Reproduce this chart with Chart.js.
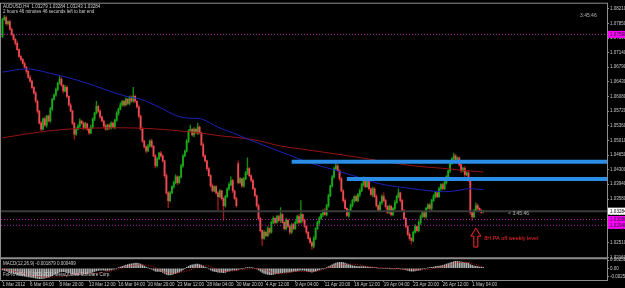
<!DOCTYPE html>
<html>
<head>
<meta charset="utf-8">
<script src="https://cdn.jsdelivr.net/npm/chart.js@4.4.1/dist/chart.umd.min.js"></script>
<style>
  html, body { margin: 0; padding: 0; background: #000; }
  canvas { display: block; }
</style>
</head>
<body>
<canvas id="chart" width="625" height="288"></canvas>
<script>
// AUDUSD H4 closes, one per bar (bar 0 = 1 Mar 16:00)
const closes = [
  1.0795,1.0800,1.0785,1.0790,1.0771,1.0759,1.0747,1.0737,1.0722,1.0705,
  1.0698,1.0688,1.0679,1.0669,1.0654,1.0645,1.0630,1.0616,1.0596,1.0572,
  1.0543,1.0528,1.0553,1.0538,1.0560,1.0548,1.0577,1.0601,1.0611,1.0625,
  1.0640,1.0650,1.0635,1.0621,1.0630,1.0608,1.0587,1.0572,1.0543,1.0516,
  1.0528,1.0536,1.0548,1.0543,1.0531,1.0541,1.0528,1.0519,1.0533,1.0553,
  1.0567,1.0584,1.0572,1.0558,1.0548,1.0536,1.0528,1.0538,1.0531,1.0543,
  1.0533,1.0550,1.0567,1.0577,1.0587,1.0596,1.0587,1.0601,1.0591,1.0606,
  1.0596,1.0608,1.0596,1.0582,1.0560,1.0528,1.0499,1.0485,1.0475,1.0487,
  1.0499,1.0487,1.0463,1.0439,1.0456,1.0470,1.0463,1.0451,1.0415,1.0373,
  1.0354,1.0373,1.0388,1.0398,1.0412,1.0398,1.0412,1.0439,1.0463,1.0475,
  1.0499,1.0524,1.0528,1.0514,1.0528,1.0519,1.0533,1.0519,1.0490,1.0463,
  1.0451,1.0432,1.0415,1.0390,1.0378,1.0388,1.0373,1.0364,1.0378,1.0359,
  1.0342,1.0364,1.0383,1.0393,1.0403,1.0378,1.0359,1.0342,1.0398,1.0407,
  1.0390,1.0407,1.0422,1.0432,1.0415,1.0403,1.0383,1.0366,1.0342,1.0311,
  1.0281,1.0262,1.0277,1.0269,1.0286,1.0277,1.0301,1.0311,1.0301,1.0315,
  1.0306,1.0320,1.0301,1.0286,1.0306,1.0291,1.0277,1.0296,1.0286,1.0301,
  1.0315,1.0301,1.0320,1.0306,1.0291,1.0277,1.0262,1.0252,1.0243,1.0262,
  1.0286,1.0301,1.0311,1.0320,1.0330,1.0320,1.0342,1.0366,1.0390,1.0412,
  1.0432,1.0439,1.0427,1.0407,1.0378,1.0354,1.0335,1.0318,1.0330,1.0342,
  1.0354,1.0364,1.0354,1.0369,1.0378,1.0393,1.0407,1.0388,1.0403,1.0383,
  1.0369,1.0383,1.0364,1.0342,1.0330,1.0349,1.0364,1.0354,1.0340,1.0325,
  1.0340,1.0320,1.0335,1.0349,1.0364,1.0373,1.0354,1.0330,1.0311,1.0291,
  1.0272,1.0262,1.0257,1.0277,1.0291,1.0281,1.0301,1.0315,1.0325,1.0315,
  1.0335,1.0344,1.0335,1.0354,1.0364,1.0373,1.0364,1.0383,1.0393,1.0383,
  1.0398,1.0412,1.0427,1.0444,1.0456,1.0463,1.0451,1.0458,1.0441,1.0427,
  1.0432,1.0417,1.0422,1.0403,1.0325,1.0315,1.0330,1.0342,1.0335,1.0330,
  1.0325,1.03284
];
// opens where the bar did not open at the previous close
const gapOpens = { 0: 1.0754, 128: 1.0444, 261: 1.03279 };
// wick lengths beyond the body, in pips
const wickUp = [
  3,5,4,2,3,4,2,3,5,2, 3,2,4,3,2,5,3,2,4,3, 2,4,3,5,2,3,4,2,3,4, 3,7,4,2,5,3,2,4,3,2,
  4,3,5,2,3,4,2,3,5,3, 2,12,3,4,2,3,5,2,4,3, 3,2,4,3,5,2,3,4,2,3, 4,22,3,2,5,3,4,2,3,4,
  3,5,2,4,3,2,4,3,2,5, 3,4,2,3,5,3,2,4,3,2, 4,3,10,2,4,3,10,3,2,4, 3,2,4,3,5,2,3,4,3,2,
  4,3,2,5,9,3,2,4,7,3, 2,4,3,26,3,2,4,3,2,5, 3,2,4,3,5,2,3,4,2,3, 4,17,3,2,5,3,4,2,3,4,
  3,5,34,2,4,3,2,4,3,5, 2,3,4,3,2,5,3,4,2,3, 4,7,3,2,4,3,5,2,3,4, 3,2,4,3,5,3,5,2,4,3,
  2,4,3,5,2,3,4,9,3,2, 4,3,2,5,3,10,2,4,3,2, 3,4,2,3,5,2,4,3,2,4, 3,2,4,3,5,2,3,4,2,3,
  4,3,2,5,3,7,4,3,2,4, 3,5,2,4,3,2,3,7,4,2, 3,0
];
const wickDown = [
  3,2,4,3,2,4,3,5,2,3, 4,2,3,5,2,3,4,2,3,5, 3,4,2,3,5,2,3,4,2,3, 4,2,3,5,2,4,3,2,4,12,
  3,2,4,3,5,2,3,4,2,3, 4,2,3,5,2,4,3,2,4,3, 2,4,3,5,2,3,4,2,3,4, 3,2,4,3,5,2,4,3,5,2,
  3,4,2,5,3,2,4,3,5,4, 17,3,2,4,3,5,2,3,4,2, 3,4,2,3,5,2,4,3,2,4, 3,5,2,4,3,2,4,34,3,4,
  36,3,2,4,3,5,2,4,3,2, 4,3,2,5,3,4,2,3,4,5, 3,17,2,4,3,5,2,3,4,2, 3,5,2,4,3,2,5,3,4,2,
  3,4,2,5,3,4,2,3,8,4, 3,2,4,3,5,2,3,4,2,3, 4,3,2,5,3,4,2,3,5,2, 3,4,2,3,5,2,4,3,2,4,
  3,5,2,4,3,2,4,3,5,3, 2,4,3,5,2,3,4,2,3,4, 3,4,9,3,2,4,3,5,2,3, 4,2,3,5,2,4,3,2,4,3,
  2,4,3,5,2,3,4,2,3,5, 3,4,2,3,5,9,3,2,4,3, 2,3.6
];

// moving averages (bar index, price)
const maBlueBars = [0,10,16,26,37,48,58,69,75,85,95,101,108,117,125,136,147,158,167,180,194,205,223,238,246,253,261];
const maBlueVals = [1.0667,1.0674,1.0674,1.0664,1.0652,1.0637,1.0621,1.0606,1.0601,1.0582,1.0560,1.0555,1.0553,1.0533,1.0519,1.0499,1.0480,1.0461,1.0446,1.0429,1.0410,1.0395,1.0383,1.0376,1.0378,1.0383,1.0381];
const maRedBars = [0,17,35,53,71,85,96,107,118,129,140,151,162,188,205,223,241,252,261];
const maRedVals = [1.0507,1.0519,1.0528,1.0531,1.0531,1.0528,1.0524,1.0519,1.0512,1.0507,1.0499,1.0487,1.0480,1.0463,1.0451,1.0439,1.0432,1.0427,1.0424];

// horizontal levels
const zoneLevels = [1.0449, 1.0407];
const zoneStartBars = [157, 187];
const dottedLevels = [1.0759, 1.0308, 1.0294];
const bidPrice = 1.03284;

// MACD(12,26,9) main histogram, one per bar, in units of 0.0001
const macdHist = [
  -5,-7,-8,-10,-12,-14,-16,-18,-20,-22, -23,-24,-25,-26,-27,-28,-29,-30,-31,-32,
  -33,-33,-32,-31,-30,-28,-26,-23,-20,-17, -14,-12,-11,-11,-11,-12,-14,-16,-18,-20,
  -21,-21,-20,-19,-18,-17,-16,-15,-14,-12, -10,-8,-7,-6,-6,-6,-7,-7,-6,-5,
  -4,-2,0,2,4,6,8,10,12,13, 14,15,16,16,15,13,10,7,4,1,
  -1,-3,-6,-9,-10,-10,-11,-13,-16,-19, -21,-21,-20,-18,-16,-14,-12,-9,-5,-1,
  3,6,9,11,12,13,13,12,10,7, 4,1,-2,-5,-8,-10,-11,-12,-13,-13,
  -14,-13,-11,-9,-7,-6,-6,-6,-4,-2, -1,0,1,2,2,2,1,0,-2,-5,
  -9,-13,-16,-18,-19,-20,-20,-19,-18,-17, -16,-15,-14,-13,-13,-12,-12,-11,-10,-9,
  -8,-7,-6,-6,-7,-8,-10,-11,-12,-11, -9,-7,-5,-3,-1,0,2,5,8,11,
  14,16,18,19,19,18,16,14,12,10, 8,7,6,5,5,5,5,5,4,4,
  3,3,2,1,0,0,0,0,-1,-1, -1,-2,-2,-2,-1,-1,-2,-3,-4,-5,
  -7,-8,-9,-9,-8,-7,-6,-5,-3,-1, 0,1,2,3,4,5,6,7,8,9,
  11,13,15,17,19,21,22,22,21,20, 19,18,17,16,12,9,7,6,5,4,
  4,3
];
const signalBars = [0,10,20,30,40,50,60,70,80,90,100,110,120,130,140,150,160,170,180,190,200,210,220,230,240,250,261];
const signalVals = [-2,-14,-26,-27,-18,-16,-7,8,8,-15,-8,8,-10,-4,-2,-17,-10,-10,6,13,4,0,-4,-4,6,19,5];

// axis labels
const timeLabels = ['1 Mar 2012','6 Mar 04:00','8 Mar 20:00','13 Mar 12:00','16 Mar 04:00','20 Mar 20:00','23 Mar 12:00','28 Mar 04:00','30 Mar 20:00','4 Apr 12:00','9 Apr 04:00','11 Apr 20:00','16 Apr 12:00','19 Apr 04:00','23 Apr 20:00','26 Apr 12:00','1 May 04:00'];
const timeLabelBars = [0,15,31,47,63,79,95,111,127,143,159,175,191,207,223,239,255];
const priceTicks = [1.08210,1.07850,1.07500,1.07140,1.06790,1.06430,1.06080,1.05720,1.05360,1.05010,1.04650,1.04300,1.03940,1.03580,1.03230,1.02870,1.02510,1.02160];
const macdTicks = [0.00258, 0, -0.00258];

const PIP = 0.0001;
const X_MIN = -0.8, X_MAX = 328.2;
const FONT = 'Liberation Sans, Arial, sans-serif';

const opens = closes.map((c, i) => gapOpens[i] !== undefined ? gapOpens[i] : closes[i - 1]);
const highs = closes.map((c, i) => Math.max(opens[i], c) + wickUp[i] * PIP);
const lows = closes.map((c, i) => Math.min(opens[i], c) - wickDown[i] * PIP);

const bullBody = [], bearBody = [], bullWick = [], bearWick = [];
closes.forEach((c, i) => {
  const up = c >= opens[i];
  (up ? bullBody : bearBody).push({ x: i, y: [opens[i], c] });
  (up ? bullWick : bearWick).push({ x: i, y: [lows[i], highs[i]] });
});

const levelLine = (start, level, color, width, dash) => ({
  type: 'line',
  data: [{ x: start, y: level }, { x: X_MAX, y: level }],
  borderColor: color, borderWidth: width, borderDash: dash || [],
  pointRadius: 0, yAxisID: 'y', order: 2
});

const datasets = [
  { type: 'bar', data: bearWick, backgroundColor: '#a01818', barThickness: 0.7, grouped: false, yAxisID: 'y', order: 12 },
  { type: 'bar', data: bullWick, backgroundColor: '#128e12', barThickness: 0.7, grouped: false, yAxisID: 'y', order: 12 },
  { type: 'bar', data: bearBody, backgroundColor: '#e84c54', barThickness: 1.2, minBarLength: 1, grouped: false, yAxisID: 'y', order: 11 },
  { type: 'bar', data: bullBody, backgroundColor: '#18a818', barThickness: 1.2, minBarLength: 1, grouped: false, yAxisID: 'y', order: 11 },
  { type: 'line', data: maBlueBars.map((b, i) => ({ x: b, y: maBlueVals[i] })), borderColor: '#1c22b8', borderWidth: 1, pointRadius: 0, tension: 0.4, yAxisID: 'y', order: 5 },
  { type: 'line', data: maRedBars.map((b, i) => ({ x: b, y: maRedVals[i] })), borderColor: '#9a1414', borderWidth: 1, pointRadius: 0, tension: 0.4, yAxisID: 'y', order: 5 },
  levelLine(X_MIN, bidPrice, '#3a3a3a', 2),
  ...dottedLevels.map(l => levelLine(X_MIN, l, '#b02cb0', 1, [1, 2])),
  ...zoneLevels.map((l, i) => levelLine(zoneStartBars[i], l, '#2a8ee6', 4)),
  { type: 'bar', data: macdHist.map((v, i) => ({ x: i, y: v * PIP })), backgroundColor: '#b0b0b0', barThickness: 0.8, grouped: false, yAxisID: 'y2', order: 4 },
  { type: 'line', data: signalBars.map((b, i) => ({ x: b, y: signalVals[i] * PIP })), borderColor: '#d01818', borderWidth: 1, borderDash: [1, 1.5], pointRadius: 0, tension: 0.4, yAxisID: 'y2', order: 3 }
];

const overlay = {
  id: 'overlay',
  beforeDraw(chart) {
    const ctx = chart.ctx;
    ctx.save();
    ctx.fillStyle = '#000';
    ctx.fillRect(0, 0, chart.width, chart.height);
    ctx.restore();
  },
  afterDraw(chart) {
    const ctx = chart.ctx;
    const a = chart.chartArea;
    const xs = chart.scales.x, ys = chart.scales.y;
    ctx.save();
    // frame
    ctx.strokeStyle = '#8c8c8c';
    ctx.lineWidth = 1;
    ctx.strokeRect(a.left - 0.5, a.top - 0.5, a.right - a.left + 1, a.bottom - a.top + 1);
    ctx.lineWidth = 2;
    ctx.beginPath();
    ctx.moveTo(a.left, ys.bottom);
    ctx.lineTo(a.right, ys.bottom);
    ctx.stroke();

    // price boxes on the axis
    const box = (price, bg, fg) => {
      const y = ys.getPixelForValue(price);
      ctx.fillStyle = bg;
      ctx.fillRect(a.right + 1, y - 3.5, chart.width - a.right, 7);
      ctx.fillStyle = fg;
      ctx.font = '4.6px ' + FONT;
      ctx.textBaseline = 'middle';
      ctx.textAlign = 'left';
      ctx.fillText(price.toFixed(5), a.right + 3, y + 0.3);
    };
    dottedLevels.forEach(l => box(l, '#ff00ff', '#202020'));
    box(bidPrice, '#ffffff', '#000000');

    // texts
    ctx.fillStyle = '#d0d0d0';
    ctx.textAlign = 'left';
    ctx.textBaseline = 'middle';
    ctx.font = '4.5px ' + FONT;
    ctx.fillText('AUDUSD,H4  1.03279 1.03284 1.03243 1.03284', a.left + 2, a.top + 3);
    ctx.fillText('2 hours 46 minutes 46 seconds left to bar end', a.left + 2, a.top + 8);
    ctx.fillStyle = '#b4b4b4';
    ctx.font = '5px ' + FONT;
    ctx.fillText('3:45:46', a.right - 27, a.top + 12);
    ctx.fillText('< 3:45:46', xs.getPixelForValue(274.5), ys.getPixelForValue(bidPrice) + 2);

    const y2 = chart.scales.y2;
    ctx.fillStyle = '#d0d0d0';
    ctx.font = '4.5px ' + FONT;
    ctx.fillText('MACD(12,26,9) -0.001879 0.000499', a.left + 2, y2.top + 6);
    ctx.fillText('FxPro MT4, \u00a9 2001-2011 MetaQuotes Software Corp.', a.left + 2, y2.top + 17);

    // red arrow annotation
    const cx = xs.getPixelForValue(257);
    const top = ys.getPixelForValue(1.0287), bot = ys.getPixelForValue(1.0241);
    ctx.strokeStyle = '#ff2a2a';
    ctx.lineWidth = 1;
    ctx.beginPath();
    ctx.moveTo(cx, top);
    ctx.lineTo(cx + 5, top + 8);
    ctx.lineTo(cx + 2, top + 8);
    ctx.lineTo(cx + 2, bot);
    ctx.lineTo(cx - 2, bot);
    ctx.lineTo(cx - 2, top + 8);
    ctx.lineTo(cx - 5, top + 8);
    ctx.closePath();
    ctx.stroke();
    ctx.fillStyle = '#ff2a2a';
    ctx.font = '5.5px ' + FONT;
    ctx.fillText('8H PA off weekly level', xs.getPixelForValue(261.5), ys.getPixelForValue(1.0262));
    ctx.restore();
  }
};

new Chart(document.getElementById('chart'), {
  type: 'bar',
  data: { datasets },
  plugins: [overlay],
  options: {
    responsive: false,
    animation: false,
    devicePixelRatio: 1,
    events: [],
    layout: { padding: { top: 2, left: 1, right: 0, bottom: 0 } },
    plugins: { legend: { display: false }, tooltip: { enabled: false } },
    scales: {
      x: {
        type: 'linear', position: 'bottom', min: X_MIN, max: X_MAX, offset: false,
        grid: { offset: false, drawOnChartArea: false, drawTicks: true, tickLength: 2, color: '#8c8c8c' },
        border: { display: false },
        afterBuildTicks: s => { s.ticks = timeLabelBars.map(v => ({ value: v })); },
        afterFit: s => { s.height = 8; },
        ticks: {
          color: '#c8c8c8', font: { family: FONT, size: 4.5 }, padding: 0,
          align: 'start', maxRotation: 0, minRotation: 0, autoSkip: false,
          callback: (v, i) => timeLabels[i]
        }
      },
      y: {
        type: 'linear', position: 'right', stack: 'panes', stackWeight: 256,
        min: 1.0214, max: 1.08337,
        grid: { drawOnChartArea: false, drawTicks: true, tickLength: 2, color: '#8c8c8c' },
        border: { display: false },
        afterBuildTicks: s => { s.ticks = priceTicks.map(v => ({ value: v })); },
        afterFit: s => { s.width = 18; },
        ticks: { color: '#c8c8c8', font: { family: FONT, size: 4.5 }, padding: 1, autoSkip: false, callback: v => v.toFixed(5) }
      },
      y2: {
        type: 'linear', position: 'right', stack: 'panes', stackWeight: 22,
        min: -0.0037, max: 0.0032,
        grid: { drawOnChartArea: false, drawTicks: true, tickLength: 2, color: '#8c8c8c' },
        border: { display: false },
        afterBuildTicks: s => { s.ticks = macdTicks.map(v => ({ value: v })); },
        afterFit: s => { s.width = 18; },
        ticks: { color: '#c8c8c8', font: { family: FONT, size: 4.5 }, padding: 1, autoSkip: false, callback: v => v === 0 ? '0.00' : v.toFixed(5) }
      }
    }
  }
});
</script>
</body>
</html>
